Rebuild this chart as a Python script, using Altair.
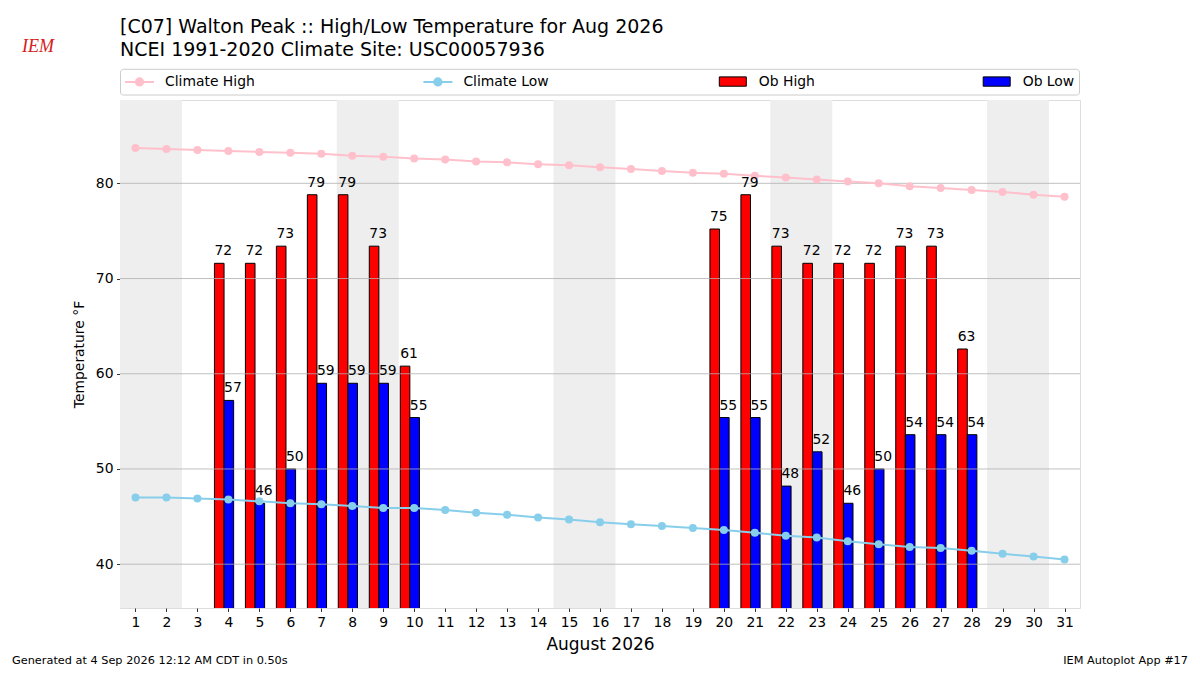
import altair as alt
import pandas as pd

# ---------------- data ----------------
days = list(range(1, 32))
climate_high = [83.7, 83.6, 83.5, 83.4, 83.3, 83.2, 83.1, 82.9, 82.8, 82.6,
                82.5, 82.3, 82.2, 82.0, 81.9, 81.7, 81.5, 81.3, 81.1, 81.0,
                80.8, 80.6, 80.4, 80.2, 80.0, 79.7, 79.5, 79.3, 79.1, 78.8, 78.6]
climate_low = [47.0, 47.0, 46.9, 46.8, 46.6, 46.4, 46.3, 46.1, 45.9, 45.9,
               45.7, 45.4, 45.2, 44.9, 44.7, 44.4, 44.2, 44.0, 43.8, 43.6,
               43.3, 43.0, 42.8, 42.4, 42.1, 41.8, 41.7, 41.4, 41.1, 40.8, 40.5]
ob_days = [4, 5, 6, 7, 8, 9, 10, 20, 21, 22, 23, 24, 25, 26, 27, 28]
ob_high = [71.6, 71.6, 73.4, 78.8, 78.8, 73.4, 60.8, 75.2, 78.8, 73.4, 71.6,
           71.6, 71.6, 73.4, 73.4, 62.6]
ob_low = [57.2, 46.4, 50.0, 59.0, 59.0, 59.0, 55.4, 55.4, 55.4, 48.2, 51.8,
          46.4, 50.0, 53.6, 53.6, 53.6]
weekend_starts = [1, 8, 15, 22, 29]
y_ticks = [40, 50, 60, 70, 80]

title_text = "[C07] Walton Peak :: High/Low Temperature for Aug 2026"
subtitle_text = "NCEI 1991-2020 Climate Site: USC00057936"
footer_left = "Generated at 4 Sep 2026 12:12 AM CDT in 0.50s"
footer_right = "IEM Autoplot App #17"
logo_text = "IEM"

# ---------------- style ----------------
FONT = "DejaVu Sans"
W, H = 960, 508

x_scale = alt.Scale(domain=[0.5, 31.5], nice=False, zero=False)
y_scale = alt.Scale(domain=[35.4, 88.75], nice=False, zero=False)

x_axis = alt.Axis(values=days, format="d", title="August 2026", grid=False,
                  domain=False, tickSize=3.5, tickWidth=0.8, tickColor="black",
                  labelPadding=3.5, labelFontSize=13.9, labelColor="black",
                  labelFont=FONT, titleFont=FONT, titleFontSize=17,
                  titleFontWeight="normal", titleColor="black", titlePadding=8,
                  labelFlush=False, labelOverlap=False)
y_axis = alt.Axis(values=y_ticks, format="d", title="Temperature °F", grid=False,
                  domain=False, tickSize=3.5, tickWidth=0.8, tickColor="black",
                  labelPadding=3.5, labelFontSize=13.9, labelColor="black",
                  labelFont=FONT, titleFont=FONT, titleFontSize=13.9,
                  titleFontWeight="normal", titleColor="black", titlePadding=9,
                  labelFlush=False, labelOverlap=False)


def X(field):
    return alt.X(field, type="quantitative", scale=x_scale, axis=x_axis)


def Y(field):
    return alt.Y(field, type="quantitative", scale=y_scale, axis=y_axis)


clim = pd.DataFrame({
    "day": days * 2,
    "temp": climate_high + climate_low,
    "series": ["Climate High"] * len(days) + ["Climate Low"] * len(days),
})
obs = pd.DataFrame({
    "day": ob_days * 2,
    "temp": ob_high + ob_low,
    "series": ["Ob High"] * len(ob_days) + ["Ob Low"] * len(ob_days),
})

# legend frame (decorative)
frame = alt.Chart(alt.Data(values=[{"k": 0}])).mark_rect(
    fill="white", stroke="#cccccc", strokeWidth=1, cornerRadius=3
).encode(x=alt.value(0.5), x2=alt.value(959.5), y=alt.value(-30.7), y2=alt.value(-5))

bands = alt.Chart(pd.DataFrame({"start": weekend_starts})).transform_calculate(
    b0="datum.start - 0.5", b1="datum.start + 1.5"
).mark_rect(color="#eeeeee").encode(x=X("b0"), x2="b1:Q")

bars_base = alt.Chart(obs).transform_calculate(
    left="datum.day + (datum.series == 'Ob High' ? -0.45 : -0.14)",
    right="datum.day + (datum.series == 'Ob High' ? -0.14 : 0.17)",
)

bars = bars_base.mark_rect(stroke="black", strokeWidth=1, clip=True).encode(
    x=X("left"), x2="right:Q", y=Y("temp"), y2=alt.datum(0),
    fill=alt.Fill("series:N",
                  scale=alt.Scale(domain=["Ob High", "Ob Low"], range=["#ff0000", "#0000ff"]),
                  legend=alt.Legend(orient="none", legendX=598.8, legendY=-32.5,
                                    direction="horizontal", title=None,
                                    symbolType="M-1,-0.345H1V0.345H-1Z", symbolSize=729,
                                    symbolStrokeColor="black", symbolStrokeWidth=1,
                                    labelOffset=12, columnPadding=164.9, padding=0,
                                    labelFont=FONT, labelFontSize=13.9, labelColor="black")),
)

grid = alt.Chart(pd.DataFrame({"tick": y_ticks})).mark_rule(
    color="#b0b0b0", strokeWidth=0.8
).encode(y=Y("tick"))

lines = alt.Chart(clim).mark_line(
    strokeWidth=2, point=alt.OverlayMarkDef(filled=True, size=64, opacity=1)
).encode(
    x=X("day"), y=Y("temp"),
    color=alt.Color("series:N",
                    scale=alt.Scale(domain=["Climate High", "Climate Low"], range=["#ffc0cb", "#87ceeb"]),
                    legend=alt.Legend(orient="none", legendX=4, legendY=-34,
                                      direction="horizontal", title=None,
                                      symbolType="M-1,0H1M-0.25,0A0.25,0.25 0 1,1 0.25,0A0.25,0.25 0 1,1 -0.25,0Z",
                                      symbolSize=841, symbolStrokeWidth=2,
                                      symbolFillColor=alt.ExprRef(expr="scale('color', datum.value)"),
                                      labelOffset=10, columnPadding=164.4, padding=0,
                                      labelFont=FONT, labelFontSize=13.9, labelColor="black")),
)

labels = bars_base.mark_text(
    align="left", baseline="alphabetic", dy=-8, fontSize=13.9, font=FONT, color="black"
).encode(x=X("left"), y=Y("temp"), text=alt.Text("temp:Q", format=".0f"))

foot_l = alt.Chart(alt.Data(values=[{"t": footer_left}])).mark_text(
    align="left", baseline="alphabetic", fontSize=11.3, font=FONT, color="black"
).encode(x=alt.value(-108), y=alt.value(564), text="t:N")

foot_r = alt.Chart(alt.Data(values=[{"t": footer_right}])).mark_text(
    align="right", baseline="alphabetic", fontSize=11.3, font=FONT, color="black"
).encode(x=alt.value(1068), y=alt.value(564), text="t:N")

logo = alt.Chart(alt.Data(values=[{"t": logo_text}])).mark_text(
    align="center", baseline="alphabetic", fontSize=18, font="Liberation Serif",
    fontStyle="italic", color="#d42020"
).encode(x=alt.value(-82), y=alt.value(-48), text="t:N")

chart = alt.layer(
    frame, bands, bars, grid, lines, labels, foot_l, foot_r, logo
).properties(
    width=W, height=H,
    padding={"left": 112, "top": 92, "right": 112, "bottom": 59},
    autosize=alt.AutoSizeParams(type="none"),
    title=alt.TitleParams(
        text=title_text, subtitle=subtitle_text, anchor="start", frame="group",
        font=FONT, fontSize=19, fontWeight="normal", color="black",
        subtitleFont=FONT, subtitleFontSize=19, subtitleColor="black",
        subtitlePadding=4, offset=-22,
    ),
).configure_view(stroke="black", strokeWidth=1).configure(background="white")

chart.save("out.html", embed_options={"renderer": "svg", "actions": False})
